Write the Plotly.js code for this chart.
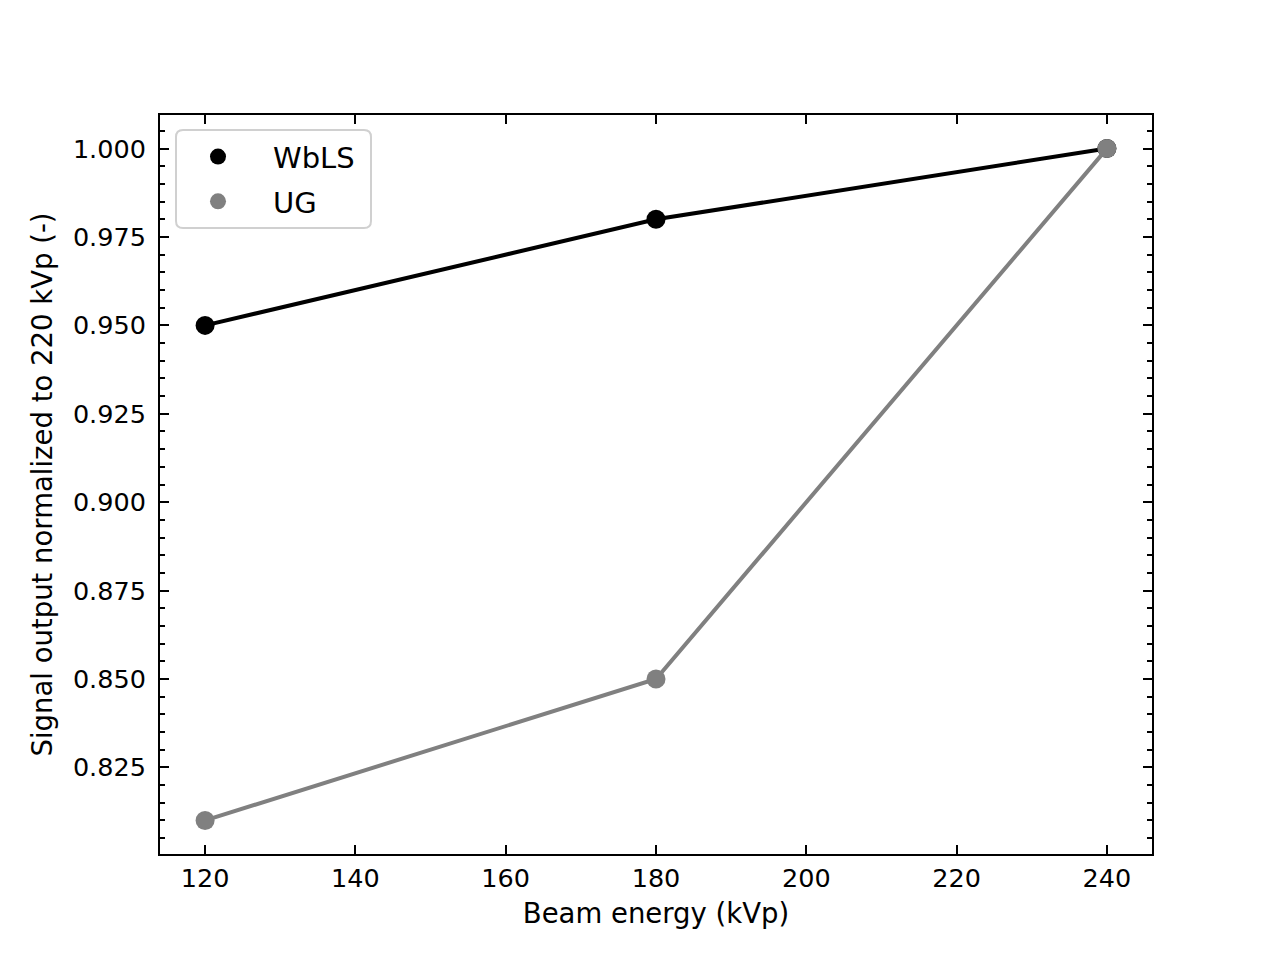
<!DOCTYPE html>
<html><head><meta charset="utf-8">
<script src="https://cdn.plot.ly/plotly-3.0.1.min.js"></script>
<style>body{margin:0;background:#fff}</style>
</head><body><div id="c" style="width:1280px;height:960px"></div>
<script>
const energies = [120, 180, 240];
const wbls = [0.95, 0.98, 1.0];
const ug = [0.81, 0.85, 1.0];
const xTicks = [120, 140, 160, 180, 200, 220, 240];
const yTicks = [0.825, 0.85, 0.875, 0.9, 0.925, 0.95, 0.975, 1.0];

const traces = [
  {x: energies, y: wbls, mode: 'lines', line: {color: 'black', width: 4}, showlegend: false, hoverinfo: 'skip'},
  {x: energies, y: wbls, mode: 'markers', name: 'WbLS', legendgroup: 'a', marker: {color: 'black', size: 19}},
  {x: energies, y: ug, mode: 'lines', line: {color: 'gray', width: 4}, showlegend: false, hoverinfo: 'skip'},
  {x: energies, y: ug, mode: 'markers', name: 'UG', legendgroup: 'b', marker: {color: 'gray', size: 19}}
];
const tickFont = {family: 'DejaVu Sans', size: 25.5, color: 'black'};
const titleFont = {family: 'DejaVu Sans', size: 27.5, color: 'black'};
// rounded legend frame (px -> paper)
const pw = 992, ph = 739;
const bx0 = 16 / pw, bx1 = 211 / pw, by1 = 724 / ph, by0 = 626 / ph;
const rx = 7 / pw, ry = 7 / ph;
const framePath = `M ${bx0 + rx} ${by0} L ${bx1 - rx} ${by0} Q ${bx1} ${by0} ${bx1} ${by0 + ry} L ${bx1} ${by1 - ry} Q ${bx1} ${by1} ${bx1 - rx} ${by1} L ${bx0 + rx} ${by1} Q ${bx0} ${by1} ${bx0} ${by1 - ry} L ${bx0} ${by0 + ry} Q ${bx0} ${by0} ${bx0 + rx} ${by0} Z`;

const layout = {
  width: 1280, height: 960,
  margin: {l: 160, r: 128, t: 115, b: 106},
  paper_bgcolor: 'white', plot_bgcolor: 'white',
  font: tickFont,
  xaxis: {
    range: [114, 246], tickvals: xTicks, ticktext: xTicks.map(String),
    ticks: 'inside', ticklen: 9, tickwidth: 2, tickcolor: 'black',
    showline: true, linecolor: 'black', linewidth: 2, mirror: 'ticks',
    showgrid: false, zeroline: false, tickfont: tickFont, ticklabelstandoff: 0,
    title: {text: 'Beam energy (kVp)', font: titleFont, standoff: 12}
  },
  yaxis: {
    range: [0.8005, 1.0095], tickvals: yTicks, ticktext: yTicks.map(v => v.toFixed(3)),
    ticks: 'inside', ticklen: 9, tickwidth: 2, tickcolor: 'black',
    showline: true, linecolor: 'black', linewidth: 2, mirror: 'ticks',
    showgrid: false, zeroline: false, tickfont: tickFont, ticklabelstandoff: 7,
    minor: {dtick: 0.005, tick0: 0.8, ticks: 'inside', ticklen: 5, tickwidth: 1.6, tickcolor: 'black', showgrid: false},
    title: {text: 'Signal output normalized to 220 kVp (-)', font: titleFont, standoff: 12}
  },
  shapes: [{
    type: 'path', xref: 'paper', yref: 'paper', path: framePath,
    fillcolor: 'rgba(255,255,255,0.8)', line: {color: '#d0d0d0', width: 2}, layer: 'above'
  }],
  legend: {
    x: 3 / pw, y: 0.978, xanchor: 'left', yanchor: 'top',
    bgcolor: 'rgba(0,0,0,0)', borderwidth: 0,
    font: {family: 'DejaVu Sans', size: 29, color: 'black'},
    itemwidth: 100, tracegroupgap: 4
  },
  showlegend: true
};
Plotly.newPlot('c', traces, layout, {displayModeBar: false});
</script></body></html>
